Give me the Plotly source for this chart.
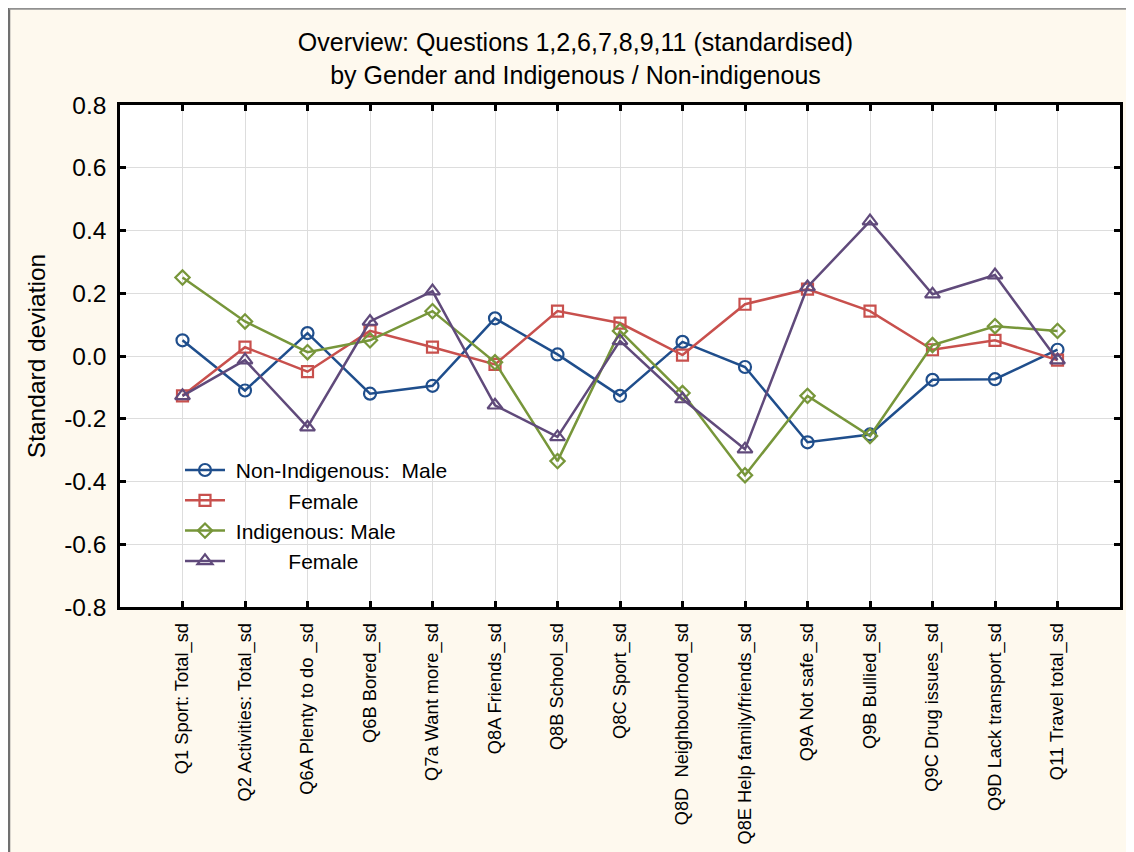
import plotly.graph_objects as go

questions = ['Q1 Sport: Total_sd', 'Q2 Activities: Total_sd', 'Q6A Plenty to do _sd', 'Q6B Bored_sd',
             'Q7a Want more_sd', 'Q8A Friends_sd', 'Q8B School_sd', 'Q8C Sport_sd',
             'Q8D\u00a0\u00a0Neighbourhood_sd', 'Q8E Help family/friends_sd', 'Q9A Not safe_sd',
             'Q9B Bullied_sd', 'Q9C Drug issues_sd', 'Q9D Lack transport_sd', 'Q11 Travel total_sd']

non_indig_male = [0.05, -0.11, 0.073, -0.12, -0.095, 0.12, 0.005, -0.127, 0.045, -0.035,
                  -0.275, -0.25, -0.076, -0.074, 0.02]
non_indig_female = [-0.127, 0.028, -0.05, 0.08, 0.028, -0.027, 0.143, 0.105, 0.003, 0.165,
                    0.213, 0.143, 0.02, 0.05, -0.013]
indig_male = [0.25, 0.11, 0.012, 0.05, 0.143, -0.02, -0.335, 0.08, -0.118, -0.38,
              -0.127, -0.255, 0.035, 0.095, 0.08]
indig_female = [-0.127, -0.013, -0.227, 0.11, 0.207, -0.157, -0.258, 0.048, -0.137, -0.297,
                0.22, 0.43, 0.197, 0.258, -0.013]

y_ticks = [-0.8, -0.6, -0.4, -0.2, 0.0, 0.2, 0.4, 0.6, 0.8]
y_tick_labels = ['-0.8', '-0.6', '-0.4', '-0.2', '0.0', '0.2', '0.4', '0.6', '0.8']

nb = '\u00a0'
series = [
    (nb + 'Non-Indigenous:' + nb * 2 + 'Male', non_indig_male, '#1F4E8C', 'circle-open', 12),
    (nb * 10 + 'Female', non_indig_female, '#C8504D', 'square-open', 11),
    (nb + 'Indigenous: Male', indig_male, '#77963A', 'diamond-open', 11),
    (nb * 10 + 'Female', indig_female, '#604A7B', 'triangle-up-open', 13),
]

x = list(range(len(questions)))
fig = go.Figure()
for name, vals, color, symbol, size in series:
    fig.add_trace(go.Scatter(x=x, y=vals, name=name, mode='lines+markers',
                             line=dict(color=color, width=2.5),
                             marker=dict(symbol=symbol, size=size, color=color,
                                         line=dict(color=color, width=2.2))))

font = 'Arial, Liberation Sans, sans-serif'
axis_style = dict(showgrid=True, gridcolor='#DDDDDD', gridwidth=1, zeroline=False,
                  showline=True, linecolor='black', linewidth=2.5, mirror='ticks',
                  ticks='inside', ticklen=6, tickwidth=2.5, tickcolor='black',
                  ticklabelstandoff=6, automargin=False)
fig.update_xaxes(range=[-1, 15], tickmode='array', tickvals=x, ticktext=questions, tickangle=-90,
                 tickfont=dict(size=18.3, color='black', family=font), **axis_style)
fig.update_yaxes(range=[-0.8, 0.8], tickmode='array', tickvals=y_ticks, ticktext=y_tick_labels,
                 tickfont=dict(size=24.5, color='black', family=font),
                 title=dict(text='Standard deviation', font=dict(size=24.5, color='black', family=font),
                            standoff=12),
                 **axis_style)

# the page adds an 8px body margin, so the figure is 8px smaller than the window
fig.update_layout(
    width=1126, height=844,
    margin=dict(l=112, r=14, t=97, b=245, autoexpand=False),
    paper_bgcolor='#FEF9EE', plot_bgcolor='white',
    font=dict(family=font, color='black'),
    title=dict(text='Overview: Questions 1,2,6,7,8,9,11 (standardised)<br>by Gender and Indigenous / Non-indigenous',
               x=0.504, xanchor='center', y=0.949, yanchor='top',
               font=dict(size=25, color='black', family=font)),
    legend=dict(x=0.06, y=0.313, xanchor='left', yanchor='top', bgcolor='rgba(0,0,0,0)',
                font=dict(size=21, color='black', family=font), itemwidth=40),
    shapes=[
        dict(type='line', xref='paper', yref='paper', x0=-0.111, x1=-0.111, y0=-1, y1=1.193,
             line=dict(color='#707070', width=2.5)),
        dict(type='line', xref='paper', yref='paper', x0=-0.111, x1=1.1, y0=1.192, y1=1.192,
             line=dict(color='#909090', width=2.5)),
    ],
)

fig.write_html('out.html')
